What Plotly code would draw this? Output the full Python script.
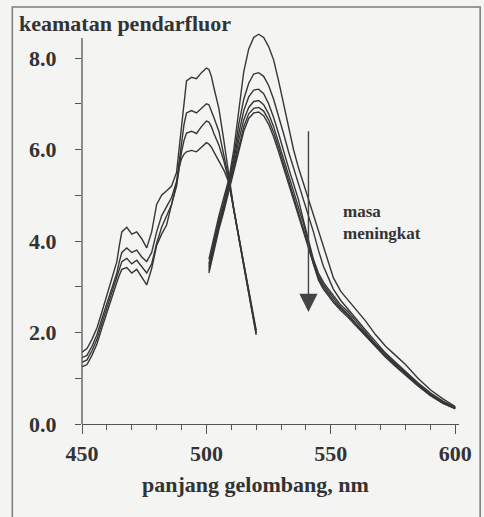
import plotly.graph_objects as go

# ---------------- data ----------------
# Excitation spectra (left group), wavelength in nm
ex_nm = [450, 452, 454, 456, 458, 460, 462, 464, 465, 466, 468, 470, 472, 474, 476,
         478, 480, 482, 484, 486, 488, 489, 490, 491, 492, 494, 496, 498, 500, 501,
         502, 503, 505, 507, 509, 511, 513, 515, 517, 519, 520]
ex_1 = [1.57, 1.65, 1.85, 2.10, 2.45, 2.80, 3.20, 3.55, 3.90, 4.20, 4.30, 4.15, 4.20, 4.05, 3.85,
        4.20, 4.80, 5.00, 5.10, 5.20, 5.50, 6.00, 6.60, 7.10, 7.50, 7.58, 7.55, 7.68, 7.78, 7.75,
        7.60, 7.35, 6.90, 6.20, 5.40, 4.70, 4.10, 3.50, 2.95, 2.35, 2.05]
ex_2 = [1.45, 1.50, 1.70, 1.95, 2.30, 2.65, 3.00, 3.30, 3.55, 3.75, 3.85, 3.75, 3.80, 3.65, 3.55,
        3.75, 4.20, 4.55, 4.75, 4.95, 5.30, 5.75, 6.20, 6.55, 6.80, 6.85, 6.80, 6.90, 7.00, 6.98,
        6.85, 6.70, 6.40, 5.90, 5.35, 4.70, 4.10, 3.50, 2.90, 2.30, 2.00]
ex_3 = [1.35, 1.40, 1.60, 1.85, 2.20, 2.55, 2.90, 3.20, 3.40, 3.55, 3.62, 3.50, 3.58, 3.45, 3.30,
        3.50, 3.95, 4.30, 4.55, 4.80, 5.20, 5.60, 5.95, 6.20, 6.36, 6.40, 6.35, 6.50, 6.62, 6.60,
        6.50, 6.35, 6.10, 5.75, 5.30, 4.68, 4.08, 3.48, 2.88, 2.28, 1.98]
ex_4 = [1.25, 1.30, 1.50, 1.75, 2.10, 2.45, 2.80, 3.10, 3.25, 3.38, 3.42, 3.30, 3.38, 3.20, 3.04,
        3.40, 3.90, 4.15, 4.35, 4.80, 5.25, 5.60, 5.80, 5.90, 5.95, 5.98, 5.95, 6.05, 6.15, 6.12,
        6.05, 5.95, 5.75, 5.55, 5.28, 4.65, 4.05, 3.45, 2.85, 2.25, 1.95]

# Emission spectra (right group)
em_nm = [501, 503, 505, 507, 509, 511, 513, 515, 517, 519, 521, 523, 525, 527, 529, 531, 533,
         535, 537, 539, 541, 543, 545, 547, 549, 551, 554, 557, 560, 564, 568, 572, 576, 580,
         585, 590, 595, 600]
em_1 = [3.60, 4.10, 4.55, 4.95, 5.35, 6.00, 6.90, 7.70, 8.20, 8.45, 8.52, 8.45, 8.25, 7.96, 7.50,
        7.00, 6.45, 6.00, 5.60, 5.25, 4.90, 4.55, 4.20, 3.85, 3.50, 3.20, 2.90, 2.70, 2.50, 2.25,
        1.95, 1.70, 1.50, 1.30, 1.00, 0.75, 0.55, 0.38]
em_2 = [3.50, 4.00, 4.45, 4.85, 5.30, 5.85, 6.55, 7.10, 7.45, 7.65, 7.68, 7.60, 7.40, 7.10, 6.75,
        6.35, 5.95, 5.60, 5.30, 4.95, 4.60, 4.20, 3.80, 3.45, 3.20, 2.95, 2.70, 2.50, 2.30, 2.05,
        1.80, 1.55, 1.35, 1.15, 0.90, 0.68, 0.50, 0.36]
em_3 = [3.45, 3.95, 4.40, 4.80, 5.25, 5.75, 6.35, 6.85, 7.15, 7.30, 7.32, 7.22, 7.00, 6.70, 6.35,
        5.95, 5.60, 5.25, 4.90, 4.45, 4.00, 3.60, 3.30, 3.10, 2.95, 2.80, 2.60, 2.45, 2.25, 2.00,
        1.75, 1.53, 1.33, 1.13, 0.88, 0.65, 0.48, 0.35]
em_4 = [3.40, 3.90, 4.35, 4.75, 5.20, 5.65, 6.20, 6.65, 6.92, 7.05, 7.07, 6.98, 6.78, 6.50, 6.15,
        5.80, 5.45, 5.10, 4.75, 4.38, 3.95, 3.55, 3.25, 3.05, 2.90, 2.75, 2.55, 2.40, 2.20, 1.96,
        1.72, 1.50, 1.30, 1.10, 0.86, 0.64, 0.47, 0.35]
em_5 = [3.35, 3.85, 4.30, 4.70, 5.15, 5.60, 6.10, 6.50, 6.78, 6.90, 6.92, 6.84, 6.65, 6.38, 6.05,
        5.70, 5.35, 5.00, 4.65, 4.30, 3.90, 3.50, 3.20, 3.00, 2.85, 2.70, 2.52, 2.37, 2.18, 1.94,
        1.70, 1.48, 1.28, 1.08, 0.85, 0.63, 0.46, 0.34]
em_6 = [3.30, 3.80, 4.25, 4.65, 5.10, 5.55, 6.00, 6.40, 6.68, 6.80, 6.82, 6.74, 6.55, 6.28, 5.95,
        5.60, 5.25, 4.90, 4.55, 4.20, 3.82, 3.45, 3.15, 2.95, 2.80, 2.66, 2.48, 2.33, 2.15, 1.92,
        1.68, 1.46, 1.26, 1.06, 0.83, 0.62, 0.45, 0.33]

y_ticks = [0, 2, 4, 6, 8]
y_tick_text = ["0.0", "2.0", "4.0", "6.0", "8.0"]
x_ticks = [450, 500, 550, 600]
x_tick_text = ["450", "500", "550", "600"]

y_axis_top = 8.44          # where the drawn y axis line ends
arrow_x = 541              # "masa meningkat" arrow
arrow_from, arrow_to = 6.43, 2.45
label_x, label_y = 554, 4.90

# ---------------- layout constants ----------------
W, H = 484, 517
L, R, T, B = 82, 23.25, 26, 93
X_RANGE = [450, 601.5]
Y_RANGE = [0, 8.7]
plot_w = W - L - R
plot_h = H - T - B

LINE = "#363636"
BG = "#f4f4f2"
FONT = "Liberation Serif"

def px_x(p):  # pixel -> paper x
    return (p - L) / plot_w

def px_y(p):  # pixel -> paper y
    return (H - B - p) / plot_h

fig = go.Figure()
for ys in [ex_1, ex_2, ex_3, ex_4]:
    fig.add_trace(go.Scatter(x=ex_nm, y=ys, mode="lines",
                             line=dict(color=LINE, width=1.4), hoverinfo="skip"))
for ys in [em_1, em_2, em_3, em_4, em_5, em_6]:
    fig.add_trace(go.Scatter(x=em_nm, y=ys, mode="lines",
                             line=dict(color=LINE, width=1.4), hoverinfo="skip"))

fig.update_layout(
    width=W, height=H,
    margin=dict(l=L, r=R, t=T, b=B, pad=0),
    paper_bgcolor=BG, plot_bgcolor=BG,
    showlegend=False,
    font=dict(family=FONT, size=22, color="#333333"),
    xaxis=dict(range=X_RANGE, showgrid=False, zeroline=False,
               showline=True, linecolor="#555555", linewidth=1.3,
               tickmode="array", tickvals=x_ticks, ticktext=x_tick_text,
               ticks="outside", ticklen=9, tickwidth=1.2, tickcolor="#555555",
               ticklabelstandoff=0,
               tickfont=dict(family=FONT, size=22, color="#333333", weight="bold"),
               minor=dict(dtick=10, tick0=450, ticks="outside", ticklen=5,
                          tickwidth=1.1, tickcolor="#555555", showgrid=False)),
    yaxis=dict(range=Y_RANGE, showgrid=False, zeroline=False, showline=False,
               tickmode="array", tickvals=y_ticks, ticktext=y_tick_text,
               ticks="outside", ticklen=6, tickwidth=1.2, tickcolor="#555555",
               ticklabelstandoff=14,
               tickfont=dict(family=FONT, size=22, color="#333333", weight="bold"),
               minor=dict(dtick=1, tick0=0, ticks="outside", ticklen=6,
                          tickwidth=1.2, tickcolor="#555555", showgrid=False)),
)

# y axis line (stops a little below the top of the plot area)
fig.add_shape(type="line", xref="paper", yref="paper",
              x0=0, x1=0, y0=0, y1=y_axis_top / Y_RANGE[1],
              line=dict(color="#555555", width=1.3))

# outer frame of the scanned figure
fig.add_shape(type="rect", xref="paper", yref="paper",
              x0=px_x(12), x1=px_x(482), y0=px_y(530), y1=px_y(7),
              line=dict(color="#7a7a7a", width=1.5), fillcolor="rgba(0,0,0,0)")

# titles
fig.add_annotation(text="<b>keamatan pendarfluor</b>", xref="paper", yref="paper",
                   x=px_x(17), y=px_y(9), xanchor="left", yanchor="top",
                   showarrow=False, font=dict(family=FONT, size=22, color="#333333"))
fig.add_annotation(text="<b>panjang gelombang, nm</b>", xref="paper", yref="paper",
                   x=px_x(256), y=px_y(470), xanchor="center", yanchor="top",
                   showarrow=False, font=dict(family=FONT, size=22, color="#333333"))

# arrow and its label
fig.add_annotation(x=arrow_x, y=arrow_to, ax=arrow_x, ay=arrow_from,
                   xref="x", yref="y", axref="x", ayref="y",
                   showarrow=True, arrowhead=2, arrowsize=2.6, arrowwidth=1.4,
                   arrowcolor="#444444", text="")
fig.add_annotation(text="<b>masa</b><br><b>meningkat</b>", x=label_x, y=label_y,
                   xref="x", yref="y", xanchor="left", yanchor="top", align="left",
                   showarrow=False,
                   font=dict(family=FONT, size=17, color="#333333"))

fig.write_html("out.html")
